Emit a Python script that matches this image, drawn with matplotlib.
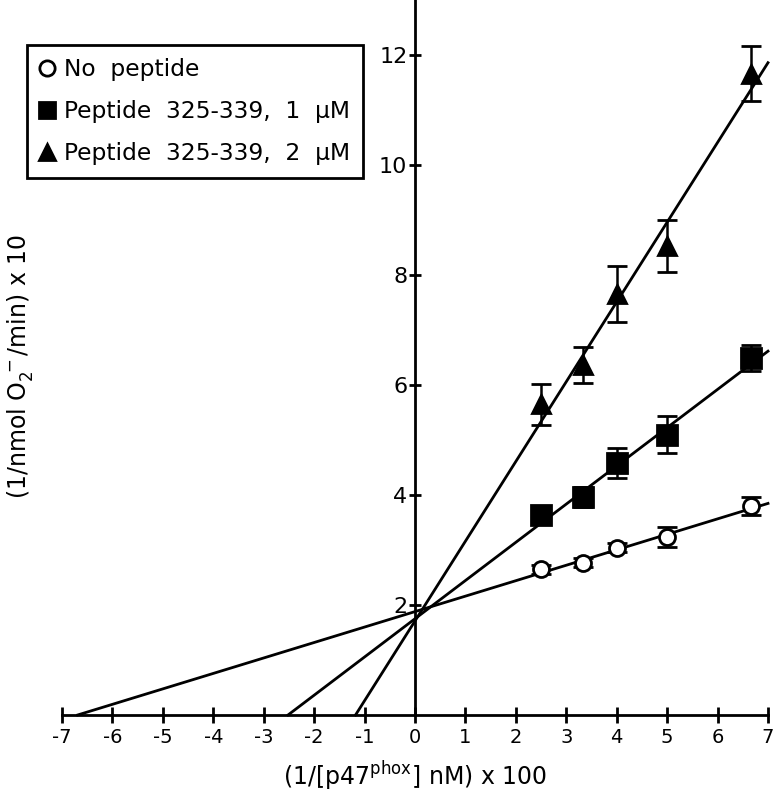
import matplotlib
matplotlib.use("Agg")
import matplotlib.pyplot as plt
import numpy as np

plt.rcParams['font.family'] = ['DejaVu Sans']
plt.rcParams['mathtext.default'] = 'regular'

# Data
x_vals = [2.5, 3.33, 4.0, 5.0, 6.67]
no_pep = [2.65, 2.77, 3.04, 3.24, 3.80]
no_pep_err = [0.08, 0.08, 0.08, 0.18, 0.17]
pep1 = [3.64, 3.96, 4.58, 5.10, 6.49]
pep1_err = [0.12, 0.18, 0.27, 0.33, 0.24]
pep2 = [5.65, 6.36, 7.65, 8.53, 11.66]
pep2_err = [0.37, 0.33, 0.51, 0.47, 0.50]

# Fitted lines (slope, intercept)
fit_slopes = [0.281, 0.695, 1.45]
fit_intercepts = [1.88, 1.75, 1.71]

labels = ["No  peptide", "Peptide  325-339,  1  \u00b5M", "Peptide  325-339,  2  \u00b5M"]
x_ticks = list(range(-7, 8))
y_ticks = [2, 4, 6, 8, 10, 12]

fig = plt.figure(figsize=(7.74, 7.93), dpi=100)
ax = fig.add_axes([62/774, 1 - 715/793, (768-62)/774, 715/793])
ax.set_xlim(-7, 7)
ax.set_ylim(0, 13)

lw = 2.0
# fit lines
for s, b in zip(fit_slopes, fit_intercepts):
    x0 = -b / s
    xs = np.array([x0, 7.0])
    ax.plot(xs, s * xs + b, color='black', lw=lw, zorder=2, clip_on=False)

series = [(no_pep, no_pep_err, 'o', 'white', 11.5),
          (pep1, pep1_err, 's', 'black', 14),
          (pep2, pep2_err, '^', 'black', 13)]
handles = []
for (ys, es, m, fc, ms), lab in zip(series, labels):
    ax.errorbar(x_vals, ys, yerr=es, fmt='none', ecolor='black', elinewidth=1.8,
                capsize=7, capthick=2.0, zorder=3, clip_on=False)
    h, = ax.plot(x_vals, ys, linestyle='none', marker=m, markersize=ms,
                 markerfacecolor=fc, markeredgecolor='black', markeredgewidth=2.0,
                 zorder=4, clip_on=False, label=lab)
    handles.append(h)

# spines
ax.spines['left'].set_position(('data', 0))
ax.spines['right'].set_visible(False)
ax.spines['top'].set_visible(False)
ax.spines['left'].set_linewidth(2.0)
ax.spines['bottom'].set_linewidth(2.0)

ax.set_xticks(x_ticks)
ax.set_xticklabels(["-%d" % -t if t < 0 else str(t) for t in x_ticks])
ax.set_yticks(y_ticks)
ax.tick_params(axis='x', direction='inout', length=11, width=2.0, labelsize=14, pad=4)
ax.tick_params(axis='y', direction='inout', length=9, width=2.0, labelsize=16, pad=1)

fig.text(415/774, 1 - 776/793, r"(1/[p47$^{phox}$] nM) x 100", ha='center', va='center', fontsize=17)
fig.text(20/774, 1 - 366/793, r"(1/nmol O$_2^{\ -}$/min) x 10", ha='center', va='center',
         rotation=90, fontsize=17)

leg = fig.legend(handles=handles, labels=labels, loc='upper left',
                 bbox_to_anchor=(27/774, 1 - 45/793), fontsize=16.8, frameon=True,
                 fancybox=False, framealpha=1, handlelength=0.6, handletextpad=0.45,
                 borderpad=0.55, labelspacing=0.82, borderaxespad=0)
leg.get_frame().set_edgecolor('black')
leg.get_frame().set_linewidth(2.0)
for h in leg.legend_handles:
    h.set_markersize(11)

fig.savefig("out.png", dpi=100)
